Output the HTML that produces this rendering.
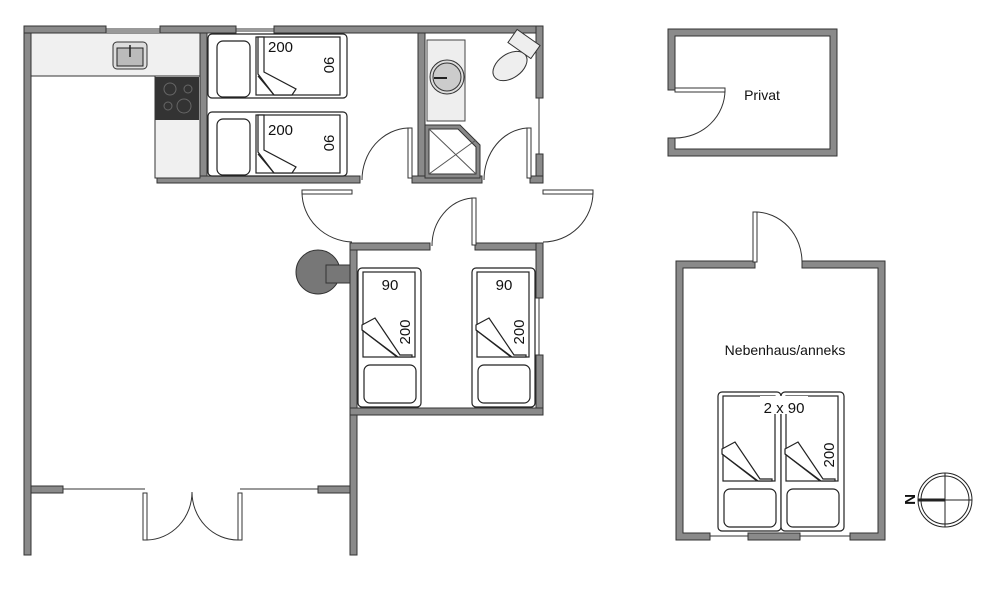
<!DOCTYPE html>
<html><head><meta charset="utf-8"><style>
html,body{margin:0;padding:0;background:#fff;width:1000px;height:595px;overflow:hidden}
svg{display:block}
text{font-family:"Liberation Sans",sans-serif;fill:#111}
</style></head><body>
<svg width="1000" height="595" viewBox="0 0 1000 595" xmlns="http://www.w3.org/2000/svg">
<defs>
<g id="hbed" fill="#fff" stroke="#222" stroke-width="1.2">
  <rect x="0" y="0" width="139" height="64" rx="4"/>
  <rect x="9" y="7" width="33" height="56" rx="6"/>
  <rect x="48" y="3" width="84" height="58"/>
  <polygon points="50,3 56,3 56,38 88,55 84,61 66,61 50,40"/>
  <line x1="50" y1="42" x2="66" y2="61"/>
</g>
<g id="vbed" fill="#fff" stroke="#222" stroke-width="1.2">
  <rect x="0" y="0" width="63" height="139" rx="4"/>
  <rect x="5" y="4" width="52" height="85"/>
  <rect x="6" y="97" width="52" height="38" rx="6"/>
  <polygon points="4,57 17,50 42,87 54,87 54,89 40,89 4,62"/>
  <line x1="4" y1="62" x2="39" y2="89"/>
</g>
</defs>
<g fill="#8a8a8a" stroke="#333" stroke-width="1">
<!-- main left wall -->
<rect x="24" y="26" width="7" height="529"/>
<!-- top wall segments -->
<rect x="24" y="26" width="82" height="7"/>
<rect x="160" y="26" width="76" height="7"/>
<rect x="274" y="26" width="269" height="7"/>
<!-- right bath wall -->
<rect x="536" y="26" width="7" height="72"/>
<rect x="536" y="154" width="7" height="29"/>
<!-- inner walls -->
<rect x="200" y="33" width="7" height="150"/>
<rect x="418" y="33" width="7" height="150"/>
<rect x="157" y="176" width="203" height="7"/>
<rect x="412" y="176" width="70" height="7"/>
<rect x="530" y="176" width="13" height="7"/>
<!-- lower bedroom -->
<rect x="350" y="243" width="7" height="312"/>
<rect x="350" y="243" width="80" height="7"/>
<rect x="475" y="243" width="68" height="7"/>
<rect x="536" y="243" width="7" height="55"/>
<rect x="536" y="355" width="7" height="60"/>
<rect x="350" y="408" width="193" height="7"/>
<!-- living bottom wall -->
<rect x="31" y="486" width="32" height="7"/>
<rect x="318" y="486" width="32" height="7"/>
<!-- privat -->
<path d="M668 29H837V156H668V138H675V149H830V36H675V90H668Z"/>
<!-- nebenhaus -->
<path d="M676 261H755V268H683V533H710V540H676Z"/>
<path d="M802 261H885V540H850V533H878V268H802Z"/>
<rect x="748" y="533" width="52" height="7"/>
</g>
<!-- windows thin lines -->
<g stroke="#333" stroke-width="1" fill="none">
<line x1="106" y1="29" x2="160" y2="29"/><line x1="106" y1="31" x2="160" y2="31"/>
<line x1="236" y1="29" x2="274" y2="29"/><line x1="236" y1="31" x2="274" y2="31"/>
<line x1="539" y1="98" x2="539" y2="154"/>
<line x1="539" y1="298" x2="539" y2="355"/>
<line x1="63" y1="489" x2="145" y2="489"/>
<line x1="240" y1="489" x2="318" y2="489"/>
<line x1="710" y1="536" x2="748" y2="536"/>
<line x1="800" y1="536" x2="850" y2="536"/>
<!-- doors -->
<rect x="408" y="128" width="4" height="50" fill="#fff"/>
<path d="M362 180A48 52 0 0 1 408 128"/>
<rect x="527" y="128" width="4" height="50" fill="#fff"/>
<path d="M484 180A46 52 0 0 1 527 128"/>
<rect x="302" y="190" width="50" height="4" fill="#fff"/>
<path d="M302 192A52 50 0 0 0 352 242"/>
<rect x="543" y="190" width="50" height="4" fill="#fff"/>
<path d="M593 192A50 50 0 0 1 543 242"/>
<rect x="472" y="198" width="4" height="47" fill="#fff"/>
<path d="M432 246A44 48 0 0 1 472 198"/>
<rect x="143" y="493" width="4" height="47" fill="#fff"/>
<path d="M147 540A46 48 0 0 0 192 492"/>
<rect x="238" y="493" width="4" height="47" fill="#fff"/>
<path d="M238 540A46 48 0 0 1 192 492"/>
<rect x="675" y="88" width="50" height="4" fill="#fff"/>
<path d="M725 90A50 48 0 0 1 675 138"/>
<rect x="753" y="212" width="4" height="50" fill="#fff"/>
<path d="M755 212A47 50 0 0 1 802 262"/>
</g>
<!-- kitchen -->
<rect x="31" y="33" width="169" height="43" fill="#f0f0f0" stroke="#333"/>
<rect x="155" y="76" width="45" height="102" fill="#f0f0f0" stroke="#333"/>
<rect x="155" y="77" width="44" height="43" fill="#333"/>
<g fill="none" stroke="#666"><circle cx="170" cy="89" r="6"/><circle cx="188" cy="89" r="4"/><circle cx="168" cy="106" r="4"/><circle cx="184" cy="106" r="7"/></g>
<rect x="113" y="42" width="34" height="27" rx="4" fill="#ddd" stroke="#333"/>
<rect x="117" y="48" width="26" height="18" fill="#bbb" stroke="#222"/>
<line x1="130" y1="45" x2="130" y2="57" stroke="#222" stroke-width="1.5"/>
<!-- beds -->
<use href="#hbed" x="208" y="34"/>
<use href="#hbed" x="208" y="112"/>
<use href="#vbed" x="358" y="268"/>
<use href="#vbed" x="472" y="268"/>
<use href="#vbed" x="718" y="392"/>
<use href="#vbed" x="781" y="392"/>
<text x="268" y="52" font-size="15">200</text>
<text x="268" y="135" font-size="15">200</text>
<text transform="translate(324,65) rotate(90)" font-size="15" text-anchor="middle">90</text>
<text transform="translate(324,143) rotate(90)" font-size="15" text-anchor="middle">90</text>
<text x="390" y="290" font-size="15" text-anchor="middle">90</text>
<text x="504" y="290" font-size="15" text-anchor="middle">90</text>
<text transform="translate(410,332) rotate(-90)" font-size="15" text-anchor="middle">200</text>
<text transform="translate(524,332) rotate(-90)" font-size="15" text-anchor="middle">200</text>
<rect x="760" y="396" width="48" height="18" fill="#fff"/>
<text x="784" y="413" font-size="15" text-anchor="middle">2 x 90</text>
<text transform="translate(834,455) rotate(-90)" font-size="15" text-anchor="middle">200</text>
<!-- stove -->
<circle cx="318" cy="272" r="22" fill="#777" stroke="#333"/>
<rect x="326" y="265" width="24" height="18" fill="#777" stroke="#333"/>
<!-- bathroom -->
<rect x="427" y="40" width="38" height="81" fill="#eee" stroke="#444"/>
<circle cx="447" cy="77" r="17" fill="#ddd" stroke="#333"/>
<circle cx="447" cy="77" r="14" fill="#ccc" stroke="#333"/>
<line x1="434" y1="78" x2="447" y2="78" stroke="#222" stroke-width="2"/>
<path d="M425 125H460L480 145V178H425Z" fill="#888" stroke="#333"/>
<path d="M429 129H458L476 147V174H429Z" fill="#fff" stroke="#333"/>
<line x1="429" y1="129" x2="476" y2="174" stroke="#555"/><line x1="476" y1="140" x2="429" y2="174" stroke="#555"/>
<ellipse cx="510" cy="66" rx="19" ry="12" transform="rotate(-35 510 66)" fill="#eee" stroke="#333"/>
<rect x="510" y="36" width="28" height="16" transform="rotate(35 524 44)" fill="#eee" stroke="#333"/>
<!-- labels -->
<text x="762" y="100" font-size="14" text-anchor="middle">Privat</text>
<text x="785" y="355" font-size="14" text-anchor="middle">Nebenhaus/anneks</text>
<!-- compass -->
<g fill="none" stroke="#222">
<circle cx="945" cy="500" r="27"/><circle cx="945" cy="500" r="24"/>
<line x1="945" y1="473" x2="945" y2="527"/><line x1="945" y1="500" x2="972" y2="500"/>
<line x1="918" y1="500" x2="945" y2="500" stroke-width="3"/>
</g>
<text x="905" y="506" font-size="15" font-weight="bold" transform="rotate(90 911 500)">N</text>
</svg>
</body></html>
